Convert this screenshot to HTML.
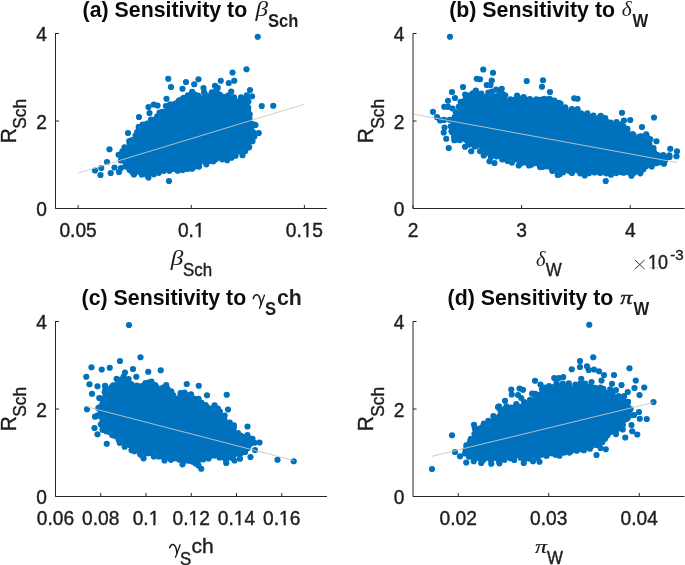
<!DOCTYPE html>
<html><head><meta charset="utf-8"><title>Sensitivity scatter plots</title>
<style>html,body{margin:0;padding:0;background:#fff;font-family:"Liberation Sans",sans-serif}svg{display:block;will-change:transform}</style></head>
<body>
<svg width="685" height="565" viewBox="0 0 685 565">
<rect width="685" height="565" fill="#fff"/>
<!-- panel a -->
<path d="M120.43,155.22 130.14,169.25 136.09,171.63 143.79,172.95 162,169.78 193.82,166.12 201.37,162.41 226.19,157.43 245.71,147.13 252.18,134.2 251.56,125.91 248.62,118.47 246.05,108.11 246.99,99.31 246.33,98.81 241.52,102.45 238.92,102.6 217.5,91.97 211.39,95 200.58,97.71 198.6,97.5 191.01,94.65 187.2,98.34 180.82,100.98 173.15,107.27 167.57,108.57 163.47,115.73 162.15,117.12 153.06,119.89 143.65,126.95 138.17,130.26 134.77,138.16 129.58,145.97Z" fill="#0072BD"/>
<g fill="#0072BD"><circle cx="212.29" cy="93.92" r="3.1"/><circle cx="190.05" cy="95.41" r="3.1"/><circle cx="250.96" cy="123.77" r="3.1"/><circle cx="147.24" cy="123.51" r="3.1"/><circle cx="196.28" cy="163.16" r="3.1"/><circle cx="145.34" cy="170.18" r="3.1"/><circle cx="129.66" cy="144.09" r="3.1"/><circle cx="178.4" cy="165.28" r="3.1"/><circle cx="145.6" cy="126.58" r="3.1"/><circle cx="137.2" cy="132.09" r="3.1"/><circle cx="251.18" cy="128.4" r="3.1"/><circle cx="155.55" cy="119.44" r="3.1"/><circle cx="216.13" cy="159.12" r="3.1"/><circle cx="162.02" cy="166.81" r="3.1"/><circle cx="227.88" cy="95.79" r="3.1"/><circle cx="246.75" cy="97.63" r="3.1"/><circle cx="249.35" cy="134.42" r="3.1"/><circle cx="243.53" cy="101.28" r="3.1"/><circle cx="238.45" cy="101.65" r="3.1"/><circle cx="213.32" cy="161.29" r="3.1"/><circle cx="219.17" cy="155.73" r="3.1"/><circle cx="150.13" cy="169.72" r="3.1"/><circle cx="249.18" cy="138.09" r="3.1"/><circle cx="140.4" cy="130.02" r="3.1"/><circle cx="171.4" cy="165.76" r="3.1"/><circle cx="219.69" cy="94.62" r="3.1"/><circle cx="128.75" cy="166.44" r="3.1"/><circle cx="200.19" cy="100.07" r="3.1"/><circle cx="167.25" cy="113.2" r="3.1"/><circle cx="152.4" cy="172.66" r="3.1"/><circle cx="223.35" cy="96.79" r="3.1"/><circle cx="152.31" cy="120.77" r="3.1"/><circle cx="247.92" cy="144.16" r="3.1"/><circle cx="158.2" cy="171.83" r="3.1"/><circle cx="160.81" cy="116.5" r="3.1"/><circle cx="222.19" cy="159.35" r="3.1"/><circle cx="135.56" cy="172.15" r="3.1"/><circle cx="195.12" cy="166.41" r="3.1"/><circle cx="198.82" cy="96.27" r="3.1"/><circle cx="125.85" cy="148.75" r="3.1"/><circle cx="135.53" cy="135.54" r="3.1"/><circle cx="158.65" cy="167.87" r="3.1"/><circle cx="243.73" cy="146.41" r="3.1"/><circle cx="247.07" cy="105.01" r="3.1"/><circle cx="224.84" cy="156.83" r="3.1"/><circle cx="230.82" cy="156.46" r="3.1"/><circle cx="167.96" cy="108.57" r="3.1"/><circle cx="181.05" cy="168.7" r="3.1"/><circle cx="206.41" cy="95.32" r="3.1"/><circle cx="171.94" cy="110.41" r="3.1"/><circle cx="204.08" cy="97.95" r="3.1"/><circle cx="143.91" cy="129.8" r="3.1"/><circle cx="160.44" cy="120.67" r="3.1"/><circle cx="249.4" cy="118.41" r="3.1"/><circle cx="188.08" cy="100.99" r="3.1"/><circle cx="244.65" cy="111.51" r="3.1"/><circle cx="184.65" cy="100.51" r="3.1"/><circle cx="207.38" cy="158.48" r="3.1"/><circle cx="236.1" cy="150.16" r="3.1"/><circle cx="164.61" cy="116.88" r="3.1"/><circle cx="148.24" cy="173.51" r="3.1"/><circle cx="233.49" cy="99.17" r="3.1"/><circle cx="205.5" cy="161.58" r="3.1"/><circle cx="133.91" cy="167.55" r="3.1"/><circle cx="186.35" cy="166.3" r="3.1"/><circle cx="125.53" cy="160.57" r="3.1"/><circle cx="120.86" cy="155.07" r="3.1"/><circle cx="211.17" cy="157.36" r="3.1"/><circle cx="139.09" cy="171.36" r="3.1"/><circle cx="199.72" cy="162.8" r="3.1"/><circle cx="240.18" cy="147.01" r="3.1"/><circle cx="163.84" cy="170.82" r="3.1"/><circle cx="194.14" cy="98.91" r="3.1"/><circle cx="123.46" cy="157.4" r="3.1"/><circle cx="129.38" cy="163.01" r="3.1"/><circle cx="233.78" cy="154.68" r="3.1"/><circle cx="174.64" cy="105.79" r="3.1"/><circle cx="167.33" cy="167.86" r="3.1"/><circle cx="245.14" cy="107.92" r="3.1"/><circle cx="245.87" cy="140.37" r="3.1"/><circle cx="239.3" cy="151.35" r="3.1"/><circle cx="129.76" cy="149.96" r="3.1"/><circle cx="135.6" cy="140.61" r="3.1"/><circle cx="247.61" cy="115.26" r="3.1"/><circle cx="134.28" cy="144.35" r="3.1"/><circle cx="238.58" cy="105.29" r="3.1"/><circle cx="192.62" cy="163.23" r="3.1"/><circle cx="175.41" cy="169.06" r="3.1"/><circle cx="209.74" cy="98.16" r="3.1"/><circle cx="180.83" cy="104.33" r="3.1"/><circle cx="190.38" cy="166.98" r="3.1"/><circle cx="155.18" cy="168.34" r="3.1"/><circle cx="228.47" cy="99.4" r="3.1"/><circle cx="142.64" cy="173.1" r="3.1"/><circle cx="124.78" cy="154.17" r="3.1"/><circle cx="202.47" cy="159.32" r="3.1"/><circle cx="253.32" cy="132.38" r="3.1"/><circle cx="246.88" cy="121.36" r="3.1"/><circle cx="233.04" cy="102.8" r="3.1"/><circle cx="129.57" cy="170.04" r="3.1"/><circle cx="216.18" cy="95.59" r="3.1"/><circle cx="177.7" cy="102.4" r="3.1"/><circle cx="216.49" cy="91.77" r="3.1"/><circle cx="194.77" cy="94.62" r="3.1"/><circle cx="227.37" cy="154.05" r="3.1"/><circle cx="132.07" cy="140.13" r="3.1"/><circle cx="171.1" cy="169.25" r="3.1"/><circle cx="181.26" cy="99.58" r="3.1"/><circle cx="248.15" cy="111.02" r="3.1"/><circle cx="182.4" cy="165.24" r="3.1"/><circle cx="252.45" cy="136.09" r="3.1"/><circle cx="163.84" cy="112.4" r="3.1"/><circle cx="122.34" cy="151.47" r="3.1"/><circle cx="231.14" cy="151.78" r="3.1"/><circle cx="125.57" cy="164.74" r="3.1"/><circle cx="139.15" cy="135.71" r="3.1"/><circle cx="243.42" cy="104.68" r="3.1"/><circle cx="186.96" cy="97.46" r="3.1"/><circle cx="174.84" cy="165.38" r="3.1"/><circle cx="150.03" cy="125.65" r="3.1"/><circle cx="209.94" cy="160.9" r="3.1"/><circle cx="247.2" cy="101.42" r="3.1"/><circle cx="175.53" cy="109.23" r="3.1"/><circle cx="132.17" cy="147.23" r="3.1"/><circle cx="242.74" cy="149.95" r="3.1"/><circle cx="245.64" cy="118.16" r="3.1"/><circle cx="141.76" cy="126.64" r="3.1"/><circle cx="188.83" cy="163.62" r="3.1"/><circle cx="178.26" cy="107.1" r="3.1"/><circle cx="153.87" cy="174.27" r="3.1"/><circle cx="211.81" cy="92.3" r="3.1"/><circle cx="150.96" cy="119.72" r="3.1"/><circle cx="124.54" cy="147.29" r="3.1"/><circle cx="129.25" cy="141.14" r="3.1"/><circle cx="147.08" cy="175.19" r="3.1"/><circle cx="246.86" cy="95.36" r="3.1"/><circle cx="234.01" cy="97.27" r="3.1"/><circle cx="177.66" cy="170.72" r="3.1"/><circle cx="254.33" cy="136.52" r="3.1"/><circle cx="250.93" cy="140.74" r="3.1"/><circle cx="158.86" cy="172.86" r="3.1"/><circle cx="157.29" cy="116.26" r="3.1"/><circle cx="187.34" cy="168.96" r="3.1"/><circle cx="162.42" cy="111.97" r="3.1"/><circle cx="249.21" cy="146.86" r="3.1"/><circle cx="248.24" cy="107.79" r="3.1"/><circle cx="228.82" cy="95.37" r="3.1"/><circle cx="126.36" cy="166.63" r="3.1"/><circle cx="192.17" cy="91.94" r="3.1"/><circle cx="169.32" cy="170.83" r="3.1"/><circle cx="240.41" cy="100.42" r="3.1"/><circle cx="174.8" cy="103.84" r="3.1"/><circle cx="216.03" cy="90.48" r="3.1"/><circle cx="206.35" cy="164.28" r="3.1"/><circle cx="132.77" cy="172.69" r="3.1"/><circle cx="183.72" cy="97.86" r="3.1"/><circle cx="197.82" cy="95.66" r="3.1"/><circle cx="182.65" cy="170.08" r="3.1"/><circle cx="248.39" cy="101.57" r="3.1"/><circle cx="253.44" cy="124.31" r="3.1"/><circle cx="120.91" cy="160.42" r="3.1"/><circle cx="178.93" cy="100.5" r="3.1"/><circle cx="138.72" cy="126.89" r="3.1"/><circle cx="249.64" cy="114.28" r="3.1"/><circle cx="187.93" cy="95.35" r="3.1"/><circle cx="199.05" cy="166.57" r="3.1"/><circle cx="165.91" cy="106.03" r="3.1"/><circle cx="141.69" cy="174.61" r="3.1"/><circle cx="118.59" cy="154.76" r="3.1"/><circle cx="142.67" cy="124.58" r="3.1"/><circle cx="192.14" cy="168.76" r="3.1"/><circle cx="231.42" cy="157.65" r="3.1"/><circle cx="227.12" cy="160.24" r="3.1"/><circle cx="245.14" cy="150.96" r="3.1"/><circle cx="235.52" cy="155.77" r="3.1"/><circle cx="133.91" cy="174.48" r="3.1"/><circle cx="231.21" cy="91.68" r="3.1"/><circle cx="204.08" cy="92.37" r="3.1"/><circle cx="242.53" cy="155.19" r="3.1"/><circle cx="217.76" cy="87.75" r="3.1"/><circle cx="159.59" cy="112.69" r="3.1"/><circle cx="170.13" cy="104.3" r="3.1"/><circle cx="148.44" cy="177.59" r="3.1"/><circle cx="241.07" cy="97.38" r="3.1"/><circle cx="95" cy="170.5" r="3.1"/><circle cx="100.5" cy="175" r="3.1"/><circle cx="101.25" cy="168" r="3.1"/><circle cx="109.5" cy="149.25" r="3.1"/><circle cx="107" cy="162" r="3.1"/><circle cx="110.75" cy="173" r="3.1"/><circle cx="114.5" cy="167.5" r="3.1"/><circle cx="121" cy="168" r="3.1"/><circle cx="119" cy="172" r="3.1"/><circle cx="139" cy="117" r="3.1"/><circle cx="128" cy="133" r="3.1"/><circle cx="148.5" cy="107" r="3.1"/><circle cx="153.75" cy="104.5" r="3.1"/><circle cx="157.5" cy="105.5" r="3.1"/><circle cx="149.5" cy="113" r="3.1"/><circle cx="168.25" cy="78.75" r="3.1"/><circle cx="171" cy="87" r="3.1"/><circle cx="166.5" cy="98.75" r="3.1"/><circle cx="182.5" cy="88.75" r="3.1"/><circle cx="186" cy="82" r="3.1"/><circle cx="194.25" cy="84.25" r="3.1"/><circle cx="198.5" cy="79.25" r="3.1"/><circle cx="203.5" cy="88" r="3.1"/><circle cx="215" cy="85.75" r="3.1"/><circle cx="220.75" cy="80.75" r="3.1"/><circle cx="228.75" cy="83" r="3.1"/><circle cx="234.25" cy="80.75" r="3.1"/><circle cx="232.5" cy="72.5" r="3.1"/><circle cx="246.5" cy="69.25" r="3.1"/><circle cx="169" cy="181" r="3.1"/><circle cx="250" cy="90" r="3.1"/><circle cx="257.75" cy="36.75" r="3.1"/><circle cx="252" cy="96.25" r="3.1"/><circle cx="261.75" cy="106" r="3.1"/><circle cx="273.25" cy="105.75" r="3.1"/><circle cx="255.5" cy="125" r="3.1"/><circle cx="258.75" cy="133" r="3.1"/><circle cx="252.5" cy="141.25" r="3.1"/><circle cx="248.75" cy="147.5" r="3.1"/></g>
<line x1="78.4" y1="173" x2="304.5" y2="104.2" stroke="#c6c6c6" stroke-width="0.9"/>
<path d="M55.5,33 V208.5 H327" fill="none" stroke="#262626" stroke-width="1"/>
<path d="M55.5,208.5 h3.5" stroke="#262626" stroke-width="1"/>
<path d="M55.5,121 h3.5" stroke="#262626" stroke-width="1"/>
<path d="M55.5,33.5 h3.5" stroke="#262626" stroke-width="1"/>
<g transform="translate(46.8,216.3) scale(0.954,1)"><text x="-11.18" y="0" font-family="'Liberation Sans', sans-serif" font-size="20.1" font-kerning="none" fill="#1e1e1e" stroke="#1e1e1e" stroke-width="0.4">0</text></g>
<g transform="translate(46.8,128.8) scale(0.954,1)"><text x="-11.18" y="0" font-family="'Liberation Sans', sans-serif" font-size="20.1" font-kerning="none" fill="#1e1e1e" stroke="#1e1e1e" stroke-width="0.4">2</text></g>
<g transform="translate(46.8,41.3) scale(0.954,1)"><text x="-11.18" y="0" font-family="'Liberation Sans', sans-serif" font-size="20.1" font-kerning="none" fill="#1e1e1e" stroke="#1e1e1e" stroke-width="0.4">4</text></g>
<path d="M78.12,208.5 v-3.5" stroke="#262626" stroke-width="1"/>
<g transform="translate(78.12,236.9) scale(0.954,1)"><text x="-19.56" y="0" font-family="'Liberation Sans', sans-serif" font-size="20.1" font-kerning="none" fill="#1e1e1e" stroke="#1e1e1e" stroke-width="0.4">0.05</text></g>
<path d="M191.25,208.5 v-3.5" stroke="#262626" stroke-width="1"/>
<g transform="translate(191.25,236.9) scale(0.954,1)"><text x="-13.97" y="0" font-family="'Liberation Sans', sans-serif" font-size="20.1" font-kerning="none" fill="#1e1e1e" stroke="#1e1e1e" stroke-width="0.4">0.1</text><rect x="3.82" y="-2.1" width="3.77" height="3.2" fill="#fff"/><rect x="9.87" y="-2.1" width="3.62" height="3.2" fill="#fff"/></g>
<path d="M304.38,208.5 v-3.5" stroke="#262626" stroke-width="1"/>
<g transform="translate(304.38,236.9) scale(0.954,1)"><text x="-19.56" y="0" font-family="'Liberation Sans', sans-serif" font-size="20.1" font-kerning="none" fill="#1e1e1e" stroke="#1e1e1e" stroke-width="0.4">0.15</text><rect x="-1.77" y="-2.1" width="3.77" height="3.2" fill="#fff"/><rect x="4.28" y="-2.1" width="3.62" height="3.2" fill="#fff"/></g>
<g transform="translate(15.85,121) rotate(-90)">
<text transform="translate(-22.2,0) scale(0.975,1.000)" font-family="'Liberation Sans', sans-serif" font-size="21.5" font-weight="normal" font-style="normal" text-anchor="start" fill="#1e1e1e" stroke="#1e1e1e" stroke-width="0.4">R</text>
<text transform="translate(-7.7,10.5) scale(0.970,1.000)" font-family="'Liberation Sans', sans-serif" font-size="17.8" font-weight="normal" font-style="normal" text-anchor="start" fill="#1e1e1e" stroke="#1e1e1e" stroke-width="0.4">Sch</text>
</g>
<!-- panel b -->
<path d="M455.71,122.49 453.06,127.83 453.44,133.88 455.56,137.83 461.4,138.75 466.53,141.3 480.24,146.29 487.17,151.61 494.03,155.05 501.12,157.41 510.74,159.81 520.76,161.07 539.97,164.87 550.27,167.46 559.59,171.4 573.92,169.75 584.27,171.49 596.9,171.02 608.95,172.23 619,171 630.77,171 640.54,167.37 649.64,166.2 653.96,161.91 655.34,161.17 661.89,161.02 665.77,161.77 666.46,160.62 664.58,158.73 657.92,157.6 650.9,154.8 649.68,153.81 648.77,151.65 648.75,142.9 648.07,139.52 638.04,137.63 629.58,134.76 622.43,126.82 616.74,127.74 615.1,127.5 606.79,123.33 599.13,116.8 594,117.75 580.33,116.32 572.55,110.25 562.84,110.08 561.17,109.08 554.53,102.43 543.8,100.29 531.45,101.5 521.26,99.12 511,101.49 509.08,100.86 502.83,95.89 499.44,94.19 493.07,95.19 488.12,92.54 484.75,95.81 482.23,96.49 480.78,96.11 476.07,93.31 472.7,94.98 465.14,97.16 460.86,104.33 459.83,112.16Z" fill="#0072BD"/>
<g fill="#0072BD"><circle cx="510.99" cy="157.92" r="3.1"/><circle cx="608.95" cy="170.94" r="3.1"/><circle cx="627.1" cy="132.2" r="3.1"/><circle cx="459.62" cy="113.69" r="3.1"/><circle cx="554.79" cy="170.22" r="3.1"/><circle cx="646.02" cy="166.22" r="3.1"/><circle cx="603.38" cy="123.43" r="3.1"/><circle cx="482.35" cy="98.28" r="3.1"/><circle cx="596.19" cy="119.05" r="3.1"/><circle cx="518.17" cy="102.04" r="3.1"/><circle cx="535.91" cy="163.12" r="3.1"/><circle cx="478.89" cy="143.88" r="3.1"/><circle cx="456.96" cy="116.33" r="3.1"/><circle cx="487" cy="150.09" r="3.1"/><circle cx="465.15" cy="99.73" r="3.1"/><circle cx="469.88" cy="95.45" r="3.1"/><circle cx="585.02" cy="170.79" r="3.1"/><circle cx="503.99" cy="98" r="3.1"/><circle cx="556.68" cy="106.91" r="3.1"/><circle cx="505.83" cy="157.87" r="3.1"/><circle cx="581.86" cy="168.08" r="3.1"/><circle cx="637.98" cy="166.15" r="3.1"/><circle cx="648.87" cy="154.19" r="3.1"/><circle cx="456.3" cy="131.71" r="3.1"/><circle cx="478.35" cy="94.3" r="3.1"/><circle cx="615.28" cy="126.71" r="3.1"/><circle cx="488.33" cy="92.49" r="3.1"/><circle cx="546.34" cy="166.3" r="3.1"/><circle cx="664.95" cy="160.84" r="3.1"/><circle cx="548.59" cy="103.56" r="3.1"/><circle cx="649.52" cy="144.64" r="3.1"/><circle cx="491.25" cy="95.95" r="3.1"/><circle cx="633.57" cy="135.18" r="3.1"/><circle cx="555.16" cy="102.13" r="3.1"/><circle cx="604.42" cy="169.61" r="3.1"/><circle cx="636.43" cy="138.7" r="3.1"/><circle cx="624.99" cy="171.76" r="3.1"/><circle cx="519.73" cy="160.95" r="3.1"/><circle cx="482.21" cy="148.07" r="3.1"/><circle cx="501.13" cy="156.33" r="3.1"/><circle cx="577.28" cy="170.25" r="3.1"/><circle cx="645.71" cy="150.1" r="3.1"/><circle cx="507.24" cy="101.27" r="3.1"/><circle cx="607.3" cy="125.1" r="3.1"/><circle cx="645.36" cy="141.57" r="3.1"/><circle cx="585.86" cy="117.17" r="3.1"/><circle cx="653.07" cy="162.98" r="3.1"/><circle cx="551.1" cy="167.65" r="3.1"/><circle cx="565.64" cy="109.29" r="3.1"/><circle cx="561.71" cy="111.63" r="3.1"/><circle cx="525.94" cy="160" r="3.1"/><circle cx="536.85" cy="102.35" r="3.1"/><circle cx="660.57" cy="162.19" r="3.1"/><circle cx="571.38" cy="167.37" r="3.1"/><circle cx="532.98" cy="101.52" r="3.1"/><circle cx="573.68" cy="111.96" r="3.1"/><circle cx="539.39" cy="164.35" r="3.1"/><circle cx="456.96" cy="120.06" r="3.1"/><circle cx="530.6" cy="161.11" r="3.1"/><circle cx="472.71" cy="144.04" r="3.1"/><circle cx="629.92" cy="137.14" r="3.1"/><circle cx="458.84" cy="139.46" r="3.1"/><circle cx="560.34" cy="169.57" r="3.1"/><circle cx="524.02" cy="102.65" r="3.1"/><circle cx="491.07" cy="153.09" r="3.1"/><circle cx="642.75" cy="138.38" r="3.1"/><circle cx="454.08" cy="137.11" r="3.1"/><circle cx="499.13" cy="94.86" r="3.1"/><circle cx="512.15" cy="104.1" r="3.1"/><circle cx="465.9" cy="139.7" r="3.1"/><circle cx="542.92" cy="99.25" r="3.1"/><circle cx="600.6" cy="168.32" r="3.1"/><circle cx="590" cy="117.3" r="3.1"/><circle cx="628.21" cy="169.5" r="3.1"/><circle cx="611.33" cy="128.37" r="3.1"/><circle cx="655.45" cy="156.69" r="3.1"/><circle cx="466.45" cy="95.54" r="3.1"/><circle cx="457.19" cy="124.98" r="3.1"/><circle cx="570.09" cy="112.26" r="3.1"/><circle cx="453.65" cy="127.1" r="3.1"/><circle cx="617.64" cy="171.77" r="3.1"/><circle cx="565.14" cy="169.15" r="3.1"/><circle cx="546.73" cy="100.71" r="3.1"/><circle cx="579.72" cy="117.95" r="3.1"/><circle cx="623.72" cy="126.94" r="3.1"/><circle cx="523.16" cy="162.41" r="3.1"/><circle cx="589.03" cy="170.77" r="3.1"/><circle cx="514.83" cy="159.45" r="3.1"/><circle cx="462.11" cy="103.66" r="3.1"/><circle cx="495.19" cy="153.28" r="3.1"/><circle cx="626.33" cy="136.06" r="3.1"/><circle cx="623.56" cy="168.18" r="3.1"/><circle cx="599.68" cy="117.41" r="3.1"/><circle cx="527.6" cy="103" r="3.1"/><circle cx="618.75" cy="126.72" r="3.1"/><circle cx="575.99" cy="116.85" r="3.1"/><circle cx="615.85" cy="168.67" r="3.1"/><circle cx="648.97" cy="139.02" r="3.1"/><circle cx="601.08" cy="172.5" r="3.1"/><circle cx="612.91" cy="172.38" r="3.1"/><circle cx="521.27" cy="100.06" r="3.1"/><circle cx="596.55" cy="169.22" r="3.1"/><circle cx="592.55" cy="169.57" r="3.1"/><circle cx="616.2" cy="130.61" r="3.1"/><circle cx="634" cy="168.71" r="3.1"/><circle cx="461.95" cy="137.94" r="3.1"/><circle cx="581.34" cy="171.98" r="3.1"/><circle cx="653.12" cy="159.31" r="3.1"/><circle cx="460.63" cy="108.03" r="3.1"/><circle cx="569.16" cy="171.1" r="3.1"/><circle cx="543.97" cy="163.51" r="3.1"/><circle cx="475.93" cy="91.82" r="3.1"/><circle cx="621.46" cy="129.79" r="3.1"/><circle cx="496.55" cy="156.49" r="3.1"/><circle cx="452.28" cy="132.23" r="3.1"/><circle cx="663.35" cy="157.82" r="3.1"/><circle cx="566.5" cy="113.28" r="3.1"/><circle cx="525.39" cy="99.23" r="3.1"/><circle cx="571.92" cy="109.05" r="3.1"/><circle cx="471.4" cy="140.48" r="3.1"/><circle cx="612" cy="124.69" r="3.1"/><circle cx="659.99" cy="157.03" r="3.1"/><circle cx="468.93" cy="99.23" r="3.1"/><circle cx="649.54" cy="164.55" r="3.1"/><circle cx="486.19" cy="96.85" r="3.1"/><circle cx="552.2" cy="103.97" r="3.1"/><circle cx="656.37" cy="161.29" r="3.1"/><circle cx="475.27" cy="96.36" r="3.1"/><circle cx="649.09" cy="148.38" r="3.1"/><circle cx="560.32" cy="107.08" r="3.1"/><circle cx="457.42" cy="135.26" r="3.1"/><circle cx="619.47" cy="168.27" r="3.1"/><circle cx="495.45" cy="96.24" r="3.1"/><circle cx="542.99" cy="103.25" r="3.1"/><circle cx="468.31" cy="143.04" r="3.1"/><circle cx="637.64" cy="169.57" r="3.1"/><circle cx="606.53" cy="121.6" r="3.1"/><circle cx="652.55" cy="154.29" r="3.1"/><circle cx="583.31" cy="119.68" r="3.1"/><circle cx="460.49" cy="118.48" r="3.1"/><circle cx="592.72" cy="119.49" r="3.1"/><circle cx="603.85" cy="119.09" r="3.1"/><circle cx="527.69" cy="163.12" r="3.1"/><circle cx="511.52" cy="100.34" r="3.1"/><circle cx="631.52" cy="171.34" r="3.1"/><circle cx="639.63" cy="140.59" r="3.1"/><circle cx="641.67" cy="165.67" r="3.1"/><circle cx="573.8" cy="169.87" r="3.1"/><circle cx="498.91" cy="153.74" r="3.1"/><circle cx="462.84" cy="111.85" r="3.1"/><circle cx="621.35" cy="172.13" r="3.1"/><circle cx="555.41" cy="166.75" r="3.1"/><circle cx="500.38" cy="98.12" r="3.1"/><circle cx="578.61" cy="114.27" r="3.1"/><circle cx="606.17" cy="173.32" r="3.1"/><circle cx="478.91" cy="98.06" r="3.1"/><circle cx="485.38" cy="146.72" r="3.1"/><circle cx="594.56" cy="172.42" r="3.1"/><circle cx="645.96" cy="145.8" r="3.1"/><circle cx="515.75" cy="99.08" r="3.1"/><circle cx="529.12" cy="99.88" r="3.1"/><circle cx="454.18" cy="122.67" r="3.1"/><circle cx="582.79" cy="115.35" r="3.1"/><circle cx="632.88" cy="138.92" r="3.1"/><circle cx="551" cy="100.39" r="3.1"/><circle cx="518.08" cy="157.76" r="3.1"/><circle cx="599.17" cy="120.89" r="3.1"/><circle cx="531.62" cy="164.55" r="3.1"/><circle cx="650.26" cy="157.44" r="3.1"/><circle cx="587.8" cy="120.19" r="3.1"/><circle cx="472.72" cy="93.43" r="3.1"/><circle cx="563.15" cy="172.2" r="3.1"/><circle cx="549.4" cy="164.44" r="3.1"/><circle cx="475.45" cy="141.05" r="3.1"/><circle cx="502.93" cy="94.37" r="3.1"/><circle cx="508.69" cy="160.45" r="3.1"/><circle cx="542.65" cy="166.79" r="3.1"/><circle cx="611.83" cy="168.82" r="3.1"/><circle cx="558" cy="110.1" r="3.1"/><circle cx="539.41" cy="99.76" r="3.1"/><circle cx="476.03" cy="145.91" r="3.1"/><circle cx="639.69" cy="136.61" r="3.1"/><circle cx="576.23" cy="166.98" r="3.1"/><circle cx="585.89" cy="115.48" r="3.1"/><circle cx="629.22" cy="172.58" r="3.1"/><circle cx="468.4" cy="144.75" r="3.1"/><circle cx="475.81" cy="90.68" r="3.1"/><circle cx="511.92" cy="162.61" r="3.1"/><circle cx="614.87" cy="125.62" r="3.1"/><circle cx="559.75" cy="174.22" r="3.1"/><circle cx="565.22" cy="107.38" r="3.1"/><circle cx="646.68" cy="136.32" r="3.1"/><circle cx="544.64" cy="98.9" r="3.1"/><circle cx="465.15" cy="94.54" r="3.1"/><circle cx="528.94" cy="165.52" r="3.1"/><circle cx="599.91" cy="172.82" r="3.1"/><circle cx="650.37" cy="139.35" r="3.1"/><circle cx="510.52" cy="99.45" r="3.1"/><circle cx="651.05" cy="152.82" r="3.1"/><circle cx="454.34" cy="140.19" r="3.1"/><circle cx="580.17" cy="173.29" r="3.1"/><circle cx="621.66" cy="124.15" r="3.1"/><circle cx="650.52" cy="148.33" r="3.1"/><circle cx="505.19" cy="95.28" r="3.1"/><circle cx="490.94" cy="156.93" r="3.1"/><circle cx="520.52" cy="163.42" r="3.1"/><circle cx="536.18" cy="99.42" r="3.1"/><circle cx="581.1" cy="113.45" r="3.1"/><circle cx="593.47" cy="115.67" r="3.1"/><circle cx="459.97" cy="140.09" r="3.1"/><circle cx="641.49" cy="136.34" r="3.1"/><circle cx="552.38" cy="170.94" r="3.1"/><circle cx="482.24" cy="149.64" r="3.1"/><circle cx="454.64" cy="116.98" r="3.1"/><circle cx="627.43" cy="128.96" r="3.1"/><circle cx="623.87" cy="172.68" r="3.1"/><circle cx="554.24" cy="100.62" r="3.1"/><circle cx="588.93" cy="173.18" r="3.1"/><circle cx="656.38" cy="163.24" r="3.1"/><circle cx="616.31" cy="173.06" r="3.1"/><circle cx="502.23" cy="159.48" r="3.1"/><circle cx="460.65" cy="101.92" r="3.1"/><circle cx="665.77" cy="157.38" r="3.1"/><circle cx="651.77" cy="166.52" r="3.1"/><circle cx="453.28" cy="121.61" r="3.1"/><circle cx="481.35" cy="93.71" r="3.1"/><circle cx="458.74" cy="106.79" r="3.1"/><circle cx="451.47" cy="131.34" r="3.1"/><circle cx="492.02" cy="91.57" r="3.1"/><circle cx="529.96" cy="99.06" r="3.1"/><circle cx="600.77" cy="115.89" r="3.1"/><circle cx="571.99" cy="173.01" r="3.1"/><circle cx="663.87" cy="163.04" r="3.1"/><circle cx="518.01" cy="97.52" r="3.1"/><circle cx="450.8" cy="126.32" r="3.1"/><circle cx="540.04" cy="167.08" r="3.1"/><circle cx="643.32" cy="169.33" r="3.1"/><circle cx="610.64" cy="122.61" r="3.1"/><circle cx="558.89" cy="102.8" r="3.1"/><circle cx="500.99" cy="91.75" r="3.1"/><circle cx="549.53" cy="98.81" r="3.1"/><circle cx="632.52" cy="134.16" r="3.1"/><circle cx="485.74" cy="153.35" r="3.1"/><circle cx="523.67" cy="97.08" r="3.1"/><circle cx="507.32" cy="160.81" r="3.1"/><circle cx="605.21" cy="118.22" r="3.1"/><circle cx="634.67" cy="172.6" r="3.1"/><circle cx="474.66" cy="146.41" r="3.1"/><circle cx="610.99" cy="174.68" r="3.1"/><circle cx="669.37" cy="155.43" r="3.1"/><circle cx="496.14" cy="89.55" r="3.1"/><circle cx="654.15" cy="152.39" r="3.1"/><circle cx="518.67" cy="165.48" r="3.1"/><circle cx="640.36" cy="173.31" r="3.1"/><circle cx="646.25" cy="134.4" r="3.1"/><circle cx="577.58" cy="109.02" r="3.1"/><circle cx="517.07" cy="95.48" r="3.1"/><circle cx="480.07" cy="151.26" r="3.1"/><circle cx="616.56" cy="121.98" r="3.1"/><circle cx="455.86" cy="112.25" r="3.1"/><circle cx="560.63" cy="103.85" r="3.1"/><circle cx="587.31" cy="113.37" r="3.1"/><circle cx="450" cy="36.75" r="3.1"/><circle cx="440.1" cy="120.4" r="3.1"/><circle cx="444" cy="119.9" r="3.1"/><circle cx="449.7" cy="119.75" r="3.1"/><circle cx="448" cy="106.8" r="3.1"/><circle cx="452.5" cy="108.5" r="3.1"/><circle cx="483.25" cy="69.5" r="3.1"/><circle cx="493" cy="72.75" r="3.1"/><circle cx="476.75" cy="78.75" r="3.1"/><circle cx="480" cy="79.25" r="3.1"/><circle cx="491.75" cy="80.5" r="3.1"/><circle cx="486.75" cy="85" r="3.1"/><circle cx="490.5" cy="85" r="3.1"/><circle cx="463" cy="87" r="3.1"/><circle cx="452" cy="92" r="3.1"/><circle cx="455" cy="98" r="3.1"/><circle cx="448" cy="100.75" r="3.1"/><circle cx="444.25" cy="106.75" r="3.1"/><circle cx="433" cy="111.85" r="3.1"/><circle cx="437" cy="117.2" r="3.1"/><circle cx="526.75" cy="81" r="3.1"/><circle cx="543" cy="80.25" r="3.1"/><circle cx="542" cy="86.75" r="3.1"/><circle cx="550" cy="92" r="3.1"/><circle cx="501.75" cy="88.75" r="3.1"/><circle cx="574.25" cy="98.25" r="3.1"/><circle cx="577.5" cy="98.75" r="3.1"/><circle cx="444.5" cy="127.5" r="3.1"/><circle cx="443.75" cy="132.5" r="3.1"/><circle cx="446.25" cy="138.75" r="3.1"/><circle cx="448.75" cy="148" r="3.1"/><circle cx="455" cy="140" r="3.1"/><circle cx="465" cy="146.75" r="3.1"/><circle cx="471.25" cy="151.25" r="3.1"/><circle cx="483.75" cy="155.5" r="3.1"/><circle cx="489.5" cy="161.25" r="3.1"/><circle cx="494.5" cy="163" r="3.1"/><circle cx="622" cy="112.75" r="3.1"/><circle cx="654" cy="117.5" r="3.1"/><circle cx="630.25" cy="120" r="3.1"/><circle cx="624" cy="120.5" r="3.1"/><circle cx="642" cy="127" r="3.1"/><circle cx="656.5" cy="141.25" r="3.1"/><circle cx="653.5" cy="148" r="3.1"/><circle cx="670.25" cy="148.75" r="3.1"/><circle cx="677" cy="151.25" r="3.1"/><circle cx="676.5" cy="156.25" r="3.1"/><circle cx="669.5" cy="157" r="3.1"/><circle cx="657.75" cy="155" r="3.1"/><circle cx="663.25" cy="155" r="3.1"/><circle cx="664" cy="163.75" r="3.1"/><circle cx="605.75" cy="181" r="3.1"/><circle cx="631.5" cy="175.75" r="3.1"/><circle cx="584.75" cy="175.5" r="3.1"/><circle cx="557.75" cy="175" r="3.1"/></g>
<line x1="412.7" y1="114" x2="677" y2="162.5" stroke="#c6c6c6" stroke-width="0.9"/>
<path d="M413,33 V208.5 H684.5" fill="none" stroke="#262626" stroke-width="1"/>
<path d="M413,208.5 h3.5" stroke="#262626" stroke-width="1"/>
<path d="M413,121 h3.5" stroke="#262626" stroke-width="1"/>
<path d="M413,33.5 h3.5" stroke="#262626" stroke-width="1"/>
<g transform="translate(404.3,216.3) scale(0.954,1)"><text x="-11.18" y="0" font-family="'Liberation Sans', sans-serif" font-size="20.1" font-kerning="none" fill="#1e1e1e" stroke="#1e1e1e" stroke-width="0.4">0</text></g>
<g transform="translate(404.3,128.8) scale(0.954,1)"><text x="-11.18" y="0" font-family="'Liberation Sans', sans-serif" font-size="20.1" font-kerning="none" fill="#1e1e1e" stroke="#1e1e1e" stroke-width="0.4">2</text></g>
<g transform="translate(404.3,41.3) scale(0.954,1)"><text x="-11.18" y="0" font-family="'Liberation Sans', sans-serif" font-size="20.1" font-kerning="none" fill="#1e1e1e" stroke="#1e1e1e" stroke-width="0.4">4</text></g>
<path d="M413,208.5 v-3.5" stroke="#262626" stroke-width="1"/>
<g transform="translate(413,236.9) scale(0.954,1)"><text x="-5.59" y="0" font-family="'Liberation Sans', sans-serif" font-size="20.1" font-kerning="none" fill="#1e1e1e" stroke="#1e1e1e" stroke-width="0.4">2</text></g>
<path d="M521.6,208.5 v-3.5" stroke="#262626" stroke-width="1"/>
<g transform="translate(521.6,236.9) scale(0.954,1)"><text x="-5.59" y="0" font-family="'Liberation Sans', sans-serif" font-size="20.1" font-kerning="none" fill="#1e1e1e" stroke="#1e1e1e" stroke-width="0.4">3</text></g>
<path d="M630.2,208.5 v-3.5" stroke="#262626" stroke-width="1"/>
<g transform="translate(630.2,236.9) scale(0.954,1)"><text x="-5.59" y="0" font-family="'Liberation Sans', sans-serif" font-size="20.1" font-kerning="none" fill="#1e1e1e" stroke="#1e1e1e" stroke-width="0.4">4</text></g>
<g transform="translate(373.35,121) rotate(-90)">
<text transform="translate(-22.2,0) scale(0.975,1.000)" font-family="'Liberation Sans', sans-serif" font-size="21.5" font-weight="normal" font-style="normal" text-anchor="start" fill="#1e1e1e" stroke="#1e1e1e" stroke-width="0.4">R</text>
<text transform="translate(-7.7,10.5) scale(0.970,1.000)" font-family="'Liberation Sans', sans-serif" font-size="17.8" font-weight="normal" font-style="normal" text-anchor="start" fill="#1e1e1e" stroke="#1e1e1e" stroke-width="0.4">Sch</text>
</g>
<!-- panel c -->
<path d="M103.88,400.97 100.1,408.75 99.12,414.6 102.26,422.96 107.7,429.49 115.04,434.41 122.51,441.85 132.12,447.86 139.87,453.38 150.37,452.52 163.24,456.05 175.4,457.27 188.14,459.8 196.63,460.86 203.65,456.73 214.44,454.04 216.49,454.29 225,457.69 242.7,450.61 247.36,445.74 251.77,443.02 251.36,440.96 247.35,437.75 241.72,437.67 239.67,436.58 234.39,428.8 222.02,415.66 218.17,410.5 212.96,410.92 204.66,407.42 197.55,401.18 192.13,397.71 184.69,395.8 176.34,396.33 168.23,391.13 161.53,388.89 153.19,387.31 148.42,383.61 143.46,386.38 133.09,387.7 130.67,386.3 126.34,379.85 124.05,379.39 118.43,385.85 109.6,388.56 106.11,392.04Z" fill="#0072BD"/>
<g fill="#0072BD"><circle cx="180.38" cy="395.92" r="3.1"/><circle cx="245.45" cy="444.89" r="3.1"/><circle cx="137.64" cy="449.64" r="3.1"/><circle cx="146.52" cy="387.76" r="3.1"/><circle cx="118.67" cy="435.01" r="3.1"/><circle cx="166.7" cy="392.77" r="3.1"/><circle cx="209.58" cy="456.65" r="3.1"/><circle cx="151.08" cy="385.68" r="3.1"/><circle cx="102.62" cy="420.2" r="3.1"/><circle cx="165.39" cy="389.42" r="3.1"/><circle cx="147.91" cy="453.26" r="3.1"/><circle cx="201.44" cy="456.85" r="3.1"/><circle cx="178.61" cy="455.59" r="3.1"/><circle cx="144.04" cy="385.19" r="3.1"/><circle cx="252.29" cy="442.19" r="3.1"/><circle cx="169.45" cy="454.04" r="3.1"/><circle cx="99.17" cy="415.81" r="3.1"/><circle cx="189.63" cy="399.57" r="3.1"/><circle cx="118.46" cy="439.18" r="3.1"/><circle cx="224.5" cy="420.02" r="3.1"/><circle cx="204.1" cy="409.55" r="3.1"/><circle cx="115.25" cy="388.71" r="3.1"/><circle cx="105.35" cy="397.4" r="3.1"/><circle cx="112.77" cy="432.92" r="3.1"/><circle cx="135.63" cy="390.61" r="3.1"/><circle cx="219.56" cy="415.05" r="3.1"/><circle cx="163.07" cy="456.83" r="3.1"/><circle cx="209.68" cy="452.87" r="3.1"/><circle cx="193.92" cy="398.6" r="3.1"/><circle cx="151.36" cy="452.82" r="3.1"/><circle cx="233.7" cy="428.13" r="3.1"/><circle cx="121.59" cy="441.27" r="3.1"/><circle cx="135.3" cy="386.67" r="3.1"/><circle cx="162.19" cy="392.37" r="3.1"/><circle cx="233.46" cy="455.18" r="3.1"/><circle cx="119.92" cy="386.65" r="3.1"/><circle cx="202.15" cy="406.68" r="3.1"/><circle cx="109.64" cy="392.72" r="3.1"/><circle cx="194" cy="458.64" r="3.1"/><circle cx="106.51" cy="429.97" r="3.1"/><circle cx="240.45" cy="436.16" r="3.1"/><circle cx="218.95" cy="454.92" r="3.1"/><circle cx="200.96" cy="402.69" r="3.1"/><circle cx="184.3" cy="396.1" r="3.1"/><circle cx="244.84" cy="437.15" r="3.1"/><circle cx="175.05" cy="458.16" r="3.1"/><circle cx="131.35" cy="390.24" r="3.1"/><circle cx="222.39" cy="457.09" r="3.1"/><circle cx="106.1" cy="401.93" r="3.1"/><circle cx="242.68" cy="439.79" r="3.1"/><circle cx="185.2" cy="458.52" r="3.1"/><circle cx="173.24" cy="395.46" r="3.1"/><circle cx="229.76" cy="422.56" r="3.1"/><circle cx="160" cy="389.1" r="3.1"/><circle cx="242.9" cy="452.02" r="3.1"/><circle cx="248.47" cy="437.99" r="3.1"/><circle cx="227.02" cy="425.66" r="3.1"/><circle cx="175.46" cy="454.21" r="3.1"/><circle cx="126.31" cy="380.72" r="3.1"/><circle cx="108.89" cy="389.25" r="3.1"/><circle cx="148.21" cy="382.57" r="3.1"/><circle cx="237.06" cy="453.72" r="3.1"/><circle cx="238.03" cy="433.05" r="3.1"/><circle cx="120.58" cy="381.47" r="3.1"/><circle cx="140.09" cy="454" r="3.1"/><circle cx="125.28" cy="442.13" r="3.1"/><circle cx="143.97" cy="454.07" r="3.1"/><circle cx="129.57" cy="445.1" r="3.1"/><circle cx="153.31" cy="390.22" r="3.1"/><circle cx="213.94" cy="411.73" r="3.1"/><circle cx="100.7" cy="410.9" r="3.1"/><circle cx="159.21" cy="454.52" r="3.1"/><circle cx="226.44" cy="456.79" r="3.1"/><circle cx="197.85" cy="404.48" r="3.1"/><circle cx="245.38" cy="449.39" r="3.1"/><circle cx="102.35" cy="404.16" r="3.1"/><circle cx="205.61" cy="454.84" r="3.1"/><circle cx="221.11" cy="418.42" r="3.1"/><circle cx="239.37" cy="449.39" r="3.1"/><circle cx="155.31" cy="452.88" r="3.1"/><circle cx="102.52" cy="423.93" r="3.1"/><circle cx="143.06" cy="388.76" r="3.1"/><circle cx="230.21" cy="456.67" r="3.1"/><circle cx="192.31" cy="461.6" r="3.1"/><circle cx="171.19" cy="392.26" r="3.1"/><circle cx="106.52" cy="426.44" r="3.1"/><circle cx="126.38" cy="384.67" r="3.1"/><circle cx="206.97" cy="407.34" r="3.1"/><circle cx="233.83" cy="451.26" r="3.1"/><circle cx="217.05" cy="409.56" r="3.1"/><circle cx="134.67" cy="447.33" r="3.1"/><circle cx="112.08" cy="429.38" r="3.1"/><circle cx="210.45" cy="408.57" r="3.1"/><circle cx="219.86" cy="411.49" r="3.1"/><circle cx="190.42" cy="457.88" r="3.1"/><circle cx="104.78" cy="392.22" r="3.1"/><circle cx="145.02" cy="450.52" r="3.1"/><circle cx="215.49" cy="453.68" r="3.1"/><circle cx="197.42" cy="399.94" r="3.1"/><circle cx="175.77" cy="398.93" r="3.1"/><circle cx="123.04" cy="383.84" r="3.1"/><circle cx="198.12" cy="460.43" r="3.1"/><circle cx="130.02" cy="384.1" r="3.1"/><circle cx="109.42" cy="432.08" r="3.1"/><circle cx="140.15" cy="386.34" r="3.1"/><circle cx="239.04" cy="439.51" r="3.1"/><circle cx="103.47" cy="408.23" r="3.1"/><circle cx="236.25" cy="436.6" r="3.1"/><circle cx="188.3" cy="395.39" r="3.1"/><circle cx="233.47" cy="432.45" r="3.1"/><circle cx="167.04" cy="457.04" r="3.1"/><circle cx="156.43" cy="387.13" r="3.1"/><circle cx="188.32" cy="460.73" r="3.1"/><circle cx="180.85" cy="458.46" r="3.1"/><circle cx="99.93" cy="407.09" r="3.1"/><circle cx="170.55" cy="457.69" r="3.1"/><circle cx="249.67" cy="444.61" r="3.1"/><circle cx="141.46" cy="450.78" r="3.1"/><circle cx="116.64" cy="385.2" r="3.1"/><circle cx="229.73" cy="428.01" r="3.1"/><circle cx="208.72" cy="411.93" r="3.1"/><circle cx="228.01" cy="453.2" r="3.1"/><circle cx="114.85" cy="435.82" r="3.1"/><circle cx="223.93" cy="416.38" r="3.1"/><circle cx="164.23" cy="453.21" r="3.1"/><circle cx="122.93" cy="378.8" r="3.1"/><circle cx="111.68" cy="387.12" r="3.1"/><circle cx="181.95" cy="398.96" r="3.1"/><circle cx="116.56" cy="432.35" r="3.1"/><circle cx="139.55" cy="389.91" r="3.1"/><circle cx="194.13" cy="402.02" r="3.1"/><circle cx="156.77" cy="390.71" r="3.1"/><circle cx="102.84" cy="399.75" r="3.1"/><circle cx="246.93" cy="441.27" r="3.1"/><circle cx="112.29" cy="390.53" r="3.1"/><circle cx="222.98" cy="453.59" r="3.1"/><circle cx="197.98" cy="456.8" r="3.1"/><circle cx="149.92" cy="449.72" r="3.1"/><circle cx="128.39" cy="387.79" r="3.1"/><circle cx="169.36" cy="395.41" r="3.1"/><circle cx="121.62" cy="436.72" r="3.1"/><circle cx="102.4" cy="414.6" r="3.1"/><circle cx="134.43" cy="451.16" r="3.1"/><circle cx="106.07" cy="423" r="3.1"/><circle cx="242.46" cy="447.19" r="3.1"/><circle cx="131.58" cy="450.18" r="3.1"/><circle cx="131.24" cy="384.06" r="3.1"/><circle cx="150.95" cy="383.27" r="3.1"/><circle cx="163.06" cy="387.56" r="3.1"/><circle cx="171.23" cy="391.38" r="3.1"/><circle cx="241.04" cy="435.82" r="3.1"/><circle cx="101.33" cy="398.56" r="3.1"/><circle cx="124.71" cy="446.63" r="3.1"/><circle cx="201.48" cy="402.83" r="3.1"/><circle cx="217.84" cy="408.59" r="3.1"/><circle cx="240.81" cy="453.3" r="3.1"/><circle cx="112.23" cy="435.1" r="3.1"/><circle cx="170.97" cy="459.8" r="3.1"/><circle cx="195.36" cy="463.33" r="3.1"/><circle cx="247.79" cy="448.05" r="3.1"/><circle cx="119.73" cy="442.86" r="3.1"/><circle cx="113.24" cy="385.24" r="3.1"/><circle cx="123.68" cy="376.68" r="3.1"/><circle cx="100.93" cy="424.46" r="3.1"/><circle cx="136.75" cy="385.71" r="3.1"/><circle cx="98.38" cy="408.11" r="3.1"/><circle cx="203.15" cy="459.42" r="3.1"/><circle cx="214.45" cy="455.6" r="3.1"/><circle cx="183.06" cy="461.92" r="3.1"/><circle cx="120.21" cy="380.1" r="3.1"/><circle cx="155.13" cy="385.04" r="3.1"/><circle cx="233.91" cy="425.4" r="3.1"/><circle cx="225.9" cy="460.03" r="3.1"/><circle cx="180.56" cy="393.12" r="3.1"/><circle cx="231.2" cy="457.59" r="3.1"/><circle cx="106.32" cy="431.17" r="3.1"/><circle cx="245.11" cy="451.92" r="3.1"/><circle cx="153.84" cy="456.5" r="3.1"/><circle cx="158.72" cy="456.49" r="3.1"/><circle cx="254.5" cy="442.77" r="3.1"/><circle cx="224.59" cy="415.61" r="3.1"/><circle cx="97.7" cy="415.42" r="3.1"/><circle cx="205.64" cy="405.17" r="3.1"/><circle cx="145.54" cy="382.98" r="3.1"/><circle cx="190.98" cy="394.28" r="3.1"/><circle cx="128.62" cy="379.07" r="3.1"/><circle cx="208.52" cy="458.5" r="3.1"/><circle cx="141.28" cy="455.09" r="3.1"/><circle cx="179.04" cy="459.62" r="3.1"/><circle cx="212.62" cy="408.52" r="3.1"/><circle cx="219.45" cy="457.51" r="3.1"/><circle cx="105.51" cy="388.71" r="3.1"/><circle cx="198.53" cy="398.95" r="3.1"/><circle cx="251.29" cy="438.79" r="3.1"/><circle cx="167.48" cy="388.78" r="3.1"/><circle cx="116.66" cy="378.92" r="3.1"/><circle cx="232.77" cy="458.03" r="3.1"/><circle cx="105.06" cy="385.87" r="3.1"/><circle cx="143.57" cy="458.36" r="3.1"/><circle cx="102.57" cy="429.82" r="3.1"/><circle cx="182.46" cy="464.28" r="3.1"/><circle cx="95.06" cy="416.65" r="3.1"/><circle cx="151.45" cy="381.68" r="3.1"/><circle cx="214.58" cy="405.26" r="3.1"/><circle cx="198.43" cy="465.42" r="3.1"/><circle cx="129" cy="325" r="3.1"/><circle cx="140.5" cy="357.25" r="3.1"/><circle cx="120" cy="361" r="3.1"/><circle cx="91.5" cy="367.25" r="3.1"/><circle cx="101.75" cy="369.5" r="3.1"/><circle cx="109.75" cy="367.75" r="3.1"/><circle cx="133" cy="369" r="3.1"/><circle cx="160.75" cy="370.25" r="3.1"/><circle cx="148.25" cy="371.75" r="3.1"/><circle cx="86.25" cy="376.75" r="3.1"/><circle cx="125" cy="372.5" r="3.1"/><circle cx="136.25" cy="376.75" r="3.1"/><circle cx="89.5" cy="384.25" r="3.1"/><circle cx="97.5" cy="386.25" r="3.1"/><circle cx="92" cy="393.75" r="3.1"/><circle cx="99.25" cy="398" r="3.1"/><circle cx="87" cy="409.25" r="3.1"/><circle cx="186.75" cy="384" r="3.1"/><circle cx="198.75" cy="385.75" r="3.1"/><circle cx="207" cy="395.25" r="3.1"/><circle cx="226.75" cy="394.75" r="3.1"/><circle cx="228" cy="409.5" r="3.1"/><circle cx="94.5" cy="428" r="3.1"/><circle cx="97.5" cy="434.25" r="3.1"/><circle cx="106.75" cy="443.75" r="3.1"/><circle cx="166.25" cy="385" r="3.1"/><circle cx="184.5" cy="392.5" r="3.1"/><circle cx="247.5" cy="426.5" r="3.1"/><circle cx="259.5" cy="442.5" r="3.1"/><circle cx="255" cy="450" r="3.1"/><circle cx="250.5" cy="457" r="3.1"/><circle cx="277.5" cy="459.75" r="3.1"/><circle cx="293.75" cy="461.25" r="3.1"/><circle cx="201.25" cy="468.75" r="3.1"/><circle cx="234.5" cy="460.5" r="3.1"/><circle cx="240" cy="458.75" r="3.1"/><circle cx="226.25" cy="463" r="3.1"/><circle cx="164.5" cy="460.5" r="3.1"/><circle cx="247.5" cy="435" r="3.1"/><circle cx="252.5" cy="438.75" r="3.1"/></g>
<line x1="87.5" y1="407" x2="293.75" y2="460.5" stroke="#c6c6c6" stroke-width="0.9"/>
<path d="M55.5,321 V496.5 H327" fill="none" stroke="#262626" stroke-width="1"/>
<path d="M55.5,496.5 h3.5" stroke="#262626" stroke-width="1"/>
<path d="M55.5,409 h3.5" stroke="#262626" stroke-width="1"/>
<path d="M55.5,321.5 h3.5" stroke="#262626" stroke-width="1"/>
<g transform="translate(46.8,504.3) scale(0.954,1)"><text x="-11.18" y="0" font-family="'Liberation Sans', sans-serif" font-size="20.1" font-kerning="none" fill="#1e1e1e" stroke="#1e1e1e" stroke-width="0.4">0</text></g>
<g transform="translate(46.8,416.8) scale(0.954,1)"><text x="-11.18" y="0" font-family="'Liberation Sans', sans-serif" font-size="20.1" font-kerning="none" fill="#1e1e1e" stroke="#1e1e1e" stroke-width="0.4">2</text></g>
<g transform="translate(46.8,329.3) scale(0.954,1)"><text x="-11.18" y="0" font-family="'Liberation Sans', sans-serif" font-size="20.1" font-kerning="none" fill="#1e1e1e" stroke="#1e1e1e" stroke-width="0.4">4</text></g>
<path d="M55.5,496.5 v-3.5" stroke="#262626" stroke-width="1"/>
<g transform="translate(55.5,524.9) scale(0.954,1)"><text x="-19.56" y="0" font-family="'Liberation Sans', sans-serif" font-size="20.1" font-kerning="none" fill="#1e1e1e" stroke="#1e1e1e" stroke-width="0.4">0.06</text></g>
<path d="M100.75,496.5 v-3.5" stroke="#262626" stroke-width="1"/>
<g transform="translate(100.75,524.9) scale(0.954,1)"><text x="-19.56" y="0" font-family="'Liberation Sans', sans-serif" font-size="20.1" font-kerning="none" fill="#1e1e1e" stroke="#1e1e1e" stroke-width="0.4">0.08</text></g>
<path d="M146,496.5 v-3.5" stroke="#262626" stroke-width="1"/>
<g transform="translate(146,524.9) scale(0.954,1)"><text x="-13.97" y="0" font-family="'Liberation Sans', sans-serif" font-size="20.1" font-kerning="none" fill="#1e1e1e" stroke="#1e1e1e" stroke-width="0.4">0.1</text><rect x="3.82" y="-2.1" width="3.77" height="3.2" fill="#fff"/><rect x="9.87" y="-2.1" width="3.62" height="3.2" fill="#fff"/></g>
<path d="M191.25,496.5 v-3.5" stroke="#262626" stroke-width="1"/>
<g transform="translate(191.25,524.9) scale(0.954,1)"><text x="-19.56" y="0" font-family="'Liberation Sans', sans-serif" font-size="20.1" font-kerning="none" fill="#1e1e1e" stroke="#1e1e1e" stroke-width="0.4">0.12</text><rect x="-1.77" y="-2.1" width="3.77" height="3.2" fill="#fff"/><rect x="4.28" y="-2.1" width="3.62" height="3.2" fill="#fff"/></g>
<path d="M236.5,496.5 v-3.5" stroke="#262626" stroke-width="1"/>
<g transform="translate(236.5,524.9) scale(0.954,1)"><text x="-19.56" y="0" font-family="'Liberation Sans', sans-serif" font-size="20.1" font-kerning="none" fill="#1e1e1e" stroke="#1e1e1e" stroke-width="0.4">0.14</text><rect x="-1.77" y="-2.1" width="3.77" height="3.2" fill="#fff"/><rect x="4.28" y="-2.1" width="3.62" height="3.2" fill="#fff"/></g>
<path d="M281.75,496.5 v-3.5" stroke="#262626" stroke-width="1"/>
<g transform="translate(281.75,524.9) scale(0.954,1)"><text x="-19.56" y="0" font-family="'Liberation Sans', sans-serif" font-size="20.1" font-kerning="none" fill="#1e1e1e" stroke="#1e1e1e" stroke-width="0.4">0.16</text><rect x="-1.77" y="-2.1" width="3.77" height="3.2" fill="#fff"/><rect x="4.28" y="-2.1" width="3.62" height="3.2" fill="#fff"/></g>
<g transform="translate(15.85,409) rotate(-90)">
<text transform="translate(-22.2,0) scale(0.975,1.000)" font-family="'Liberation Sans', sans-serif" font-size="21.5" font-weight="normal" font-style="normal" text-anchor="start" fill="#1e1e1e" stroke="#1e1e1e" stroke-width="0.4">R</text>
<text transform="translate(-7.7,10.5) scale(0.970,1.000)" font-family="'Liberation Sans', sans-serif" font-size="17.8" font-weight="normal" font-style="normal" text-anchor="start" fill="#1e1e1e" stroke="#1e1e1e" stroke-width="0.4">Sch</text>
</g>
<!-- panel d -->
<path d="M466.88,450.18 468.15,453.35 473.68,456.12 492.75,458.5 504.8,458.5 541.91,454.79 558.23,451.58 570.88,449.8 590.19,446.18 599.49,441.53 613.95,431.89 620.89,424.95 625.33,418.3 627.58,410.41 628.41,404.56 616.78,398.33 609.49,393.47 602.82,390.13 593.17,388.91 583.76,386.1 573.86,387.75 563.34,385.21 555.36,384.54 549.17,386.19 542.55,390.61 537.56,395.57 529.45,402.24 520.96,405.13 513.47,406.39 506.77,408.63 500.05,413.11 495.04,418.09 487.55,423.11 475.61,435.05 470.97,442.01Z" fill="#0072BD"/>
<g fill="#0072BD"><circle cx="626.31" cy="414.12" r="3.1"/><circle cx="565.34" cy="450.12" r="3.1"/><circle cx="497.25" cy="417.88" r="3.1"/><circle cx="600" cy="390" r="3.1"/><circle cx="619.91" cy="403.36" r="3.1"/><circle cx="511.86" cy="455" r="3.1"/><circle cx="615.99" cy="430.17" r="3.1"/><circle cx="507.61" cy="411.43" r="3.1"/><circle cx="523.52" cy="454.76" r="3.1"/><circle cx="475.54" cy="435.34" r="3.1"/><circle cx="619.1" cy="424.77" r="3.1"/><circle cx="514.11" cy="457.71" r="3.1"/><circle cx="538.24" cy="452.28" r="3.1"/><circle cx="557.23" cy="385.28" r="3.1"/><circle cx="535.12" cy="400.39" r="3.1"/><circle cx="613.16" cy="396.32" r="3.1"/><circle cx="502.59" cy="412.91" r="3.1"/><circle cx="592.12" cy="441.79" r="3.1"/><circle cx="625.33" cy="410.84" r="3.1"/><circle cx="569.46" cy="386.17" r="3.1"/><circle cx="535.47" cy="396.82" r="3.1"/><circle cx="490.56" cy="455.54" r="3.1"/><circle cx="501.56" cy="457.22" r="3.1"/><circle cx="548.38" cy="453.01" r="3.1"/><circle cx="623.11" cy="416.83" r="3.1"/><circle cx="531.06" cy="401.3" r="3.1"/><circle cx="584.79" cy="447" r="3.1"/><circle cx="506.46" cy="457.02" r="3.1"/><circle cx="610.73" cy="432" r="3.1"/><circle cx="487.04" cy="426.2" r="3.1"/><circle cx="511.36" cy="407.59" r="3.1"/><circle cx="605.3" cy="392.54" r="3.1"/><circle cx="481.85" cy="457.67" r="3.1"/><circle cx="475.91" cy="457.25" r="3.1"/><circle cx="621" cy="399.21" r="3.1"/><circle cx="607.43" cy="435.33" r="3.1"/><circle cx="580.43" cy="389.66" r="3.1"/><circle cx="482.98" cy="431.32" r="3.1"/><circle cx="624.44" cy="403.71" r="3.1"/><circle cx="520.72" cy="457.75" r="3.1"/><circle cx="627.56" cy="405.77" r="3.1"/><circle cx="603.05" cy="435.93" r="3.1"/><circle cx="590.16" cy="390.23" r="3.1"/><circle cx="549.01" cy="386.02" r="3.1"/><circle cx="585.91" cy="386.72" r="3.1"/><circle cx="535.41" cy="455.74" r="3.1"/><circle cx="578.17" cy="386.15" r="3.1"/><circle cx="538.21" cy="394.81" r="3.1"/><circle cx="467.99" cy="445.18" r="3.1"/><circle cx="474.85" cy="439.66" r="3.1"/><circle cx="546.73" cy="389.22" r="3.1"/><circle cx="555.76" cy="450.76" r="3.1"/><circle cx="500.15" cy="415.46" r="3.1"/><circle cx="490.27" cy="459.29" r="3.1"/><circle cx="573.96" cy="448.19" r="3.1"/><circle cx="542.37" cy="393.45" r="3.1"/><circle cx="577.97" cy="449.02" r="3.1"/><circle cx="595.32" cy="444.12" r="3.1"/><circle cx="559.38" cy="449.56" r="3.1"/><circle cx="562.28" cy="452.35" r="3.1"/><circle cx="568.75" cy="448.62" r="3.1"/><circle cx="608.83" cy="393.61" r="3.1"/><circle cx="530.82" cy="456.02" r="3.1"/><circle cx="507.7" cy="407.95" r="3.1"/><circle cx="553.59" cy="387.07" r="3.1"/><circle cx="495.74" cy="457.79" r="3.1"/><circle cx="468.72" cy="451.29" r="3.1"/><circle cx="527.61" cy="404.59" r="3.1"/><circle cx="474.35" cy="453.02" r="3.1"/><circle cx="622.13" cy="421.04" r="3.1"/><circle cx="601.41" cy="439.91" r="3.1"/><circle cx="591.05" cy="446.62" r="3.1"/><circle cx="596.14" cy="439.86" r="3.1"/><circle cx="522.92" cy="407.28" r="3.1"/><circle cx="564.16" cy="386.35" r="3.1"/><circle cx="486.62" cy="457.46" r="3.1"/><circle cx="572.67" cy="389.5" r="3.1"/><circle cx="580.01" cy="445.78" r="3.1"/><circle cx="493.74" cy="419.95" r="3.1"/><circle cx="470.02" cy="455.54" r="3.1"/><circle cx="519.5" cy="406.8" r="3.1"/><circle cx="540.96" cy="454.83" r="3.1"/><circle cx="594.11" cy="391.12" r="3.1"/><circle cx="470.93" cy="448.42" r="3.1"/><circle cx="552.15" cy="453.34" r="3.1"/><circle cx="470.17" cy="441.14" r="3.1"/><circle cx="587.21" cy="444.01" r="3.1"/><circle cx="510.45" cy="458.27" r="3.1"/><circle cx="615.8" cy="425.67" r="3.1"/><circle cx="576.15" cy="389.1" r="3.1"/><circle cx="479.94" cy="434.78" r="3.1"/><circle cx="617.48" cy="397.76" r="3.1"/><circle cx="472.12" cy="444.83" r="3.1"/><circle cx="527.11" cy="457.13" r="3.1"/><circle cx="479.21" cy="454.4" r="3.1"/><circle cx="488.34" cy="420.91" r="3.1"/><circle cx="560.7" cy="385.92" r="3.1"/><circle cx="615.49" cy="400.81" r="3.1"/><circle cx="517.39" cy="454.74" r="3.1"/><circle cx="581.58" cy="385.68" r="3.1"/><circle cx="477.89" cy="431.68" r="3.1"/><circle cx="465.54" cy="449.75" r="3.1"/><circle cx="504.24" cy="409.46" r="3.1"/><circle cx="516.07" cy="406.17" r="3.1"/><circle cx="599.05" cy="442.88" r="3.1"/><circle cx="539.15" cy="398.08" r="3.1"/><circle cx="562.49" cy="448.15" r="3.1"/><circle cx="567.56" cy="389.03" r="3.1"/><circle cx="480.75" cy="428.11" r="3.1"/><circle cx="625.38" cy="419.43" r="3.1"/><circle cx="543.31" cy="451.72" r="3.1"/><circle cx="491.03" cy="423.52" r="3.1"/><circle cx="484.61" cy="454.5" r="3.1"/><circle cx="545.68" cy="455.33" r="3.1"/><circle cx="542" cy="389.52" r="3.1"/><circle cx="628.81" cy="409.75" r="3.1"/><circle cx="550.74" cy="388.97" r="3.1"/><circle cx="527.35" cy="453.29" r="3.1"/><circle cx="603.24" cy="388.79" r="3.1"/><circle cx="551.36" cy="449.79" r="3.1"/><circle cx="605.04" cy="438.75" r="3.1"/><circle cx="524.17" cy="403.06" r="3.1"/><circle cx="618.95" cy="428.17" r="3.1"/><circle cx="597.47" cy="392.28" r="3.1"/><circle cx="558.6" cy="452.89" r="3.1"/><circle cx="483.36" cy="425.76" r="3.1"/><circle cx="589.99" cy="386.58" r="3.1"/><circle cx="504.5" cy="459.84" r="3.1"/><circle cx="622.6" cy="424.49" r="3.1"/><circle cx="571.2" cy="451.08" r="3.1"/><circle cx="595.05" cy="387.83" r="3.1"/><circle cx="581.96" cy="449.25" r="3.1"/><circle cx="531.35" cy="404.69" r="3.1"/><circle cx="609.7" cy="396.93" r="3.1"/><circle cx="498.69" cy="459.57" r="3.1"/><circle cx="601.57" cy="393.05" r="3.1"/><circle cx="533.51" cy="452.74" r="3.1"/><circle cx="466.37" cy="445.38" r="3.1"/><circle cx="493.41" cy="416.19" r="3.1"/><circle cx="562.87" cy="383.63" r="3.1"/><circle cx="483.88" cy="423.49" r="3.1"/><circle cx="500.36" cy="410.31" r="3.1"/><circle cx="477.76" cy="429.44" r="3.1"/><circle cx="630.59" cy="409.06" r="3.1"/><circle cx="470.9" cy="438.81" r="3.1"/><circle cx="537.63" cy="457.72" r="3.1"/><circle cx="628.08" cy="401.78" r="3.1"/><circle cx="622.79" cy="425.09" r="3.1"/><circle cx="468.9" cy="456.77" r="3.1"/><circle cx="575.43" cy="384.7" r="3.1"/><circle cx="498.97" cy="460.97" r="3.1"/><circle cx="618.59" cy="396.13" r="3.1"/><circle cx="546.65" cy="455.7" r="3.1"/><circle cx="516.31" cy="404.12" r="3.1"/><circle cx="530.04" cy="399.77" r="3.1"/><circle cx="491.29" cy="459.95" r="3.1"/><circle cx="479.17" cy="458.23" r="3.1"/><circle cx="465.12" cy="453.42" r="3.1"/><circle cx="564.24" cy="452.59" r="3.1"/><circle cx="616.01" cy="434.09" r="3.1"/><circle cx="529.14" cy="458.56" r="3.1"/><circle cx="524.31" cy="459.56" r="3.1"/><circle cx="555.6" cy="454.66" r="3.1"/><circle cx="596.3" cy="445.01" r="3.1"/><circle cx="576.73" cy="450.66" r="3.1"/><circle cx="589.92" cy="448.75" r="3.1"/><circle cx="612.35" cy="393.17" r="3.1"/><circle cx="627.54" cy="418.33" r="3.1"/><circle cx="600.38" cy="387.61" r="3.1"/><circle cx="483.48" cy="459.81" r="3.1"/><circle cx="544.12" cy="387.61" r="3.1"/><circle cx="535.21" cy="393.83" r="3.1"/><circle cx="628.1" cy="413.83" r="3.1"/><circle cx="569.37" cy="452.62" r="3.1"/><circle cx="568.81" cy="383.39" r="3.1"/><circle cx="506.45" cy="406.32" r="3.1"/><circle cx="590.9" cy="386.26" r="3.1"/><circle cx="602.41" cy="442.04" r="3.1"/><circle cx="580.34" cy="383.66" r="3.1"/><circle cx="556.55" cy="382.98" r="3.1"/><circle cx="585.11" cy="383.53" r="3.1"/><circle cx="514.19" cy="460.02" r="3.1"/><circle cx="583.92" cy="450.18" r="3.1"/><circle cx="623.17" cy="399.87" r="3.1"/><circle cx="524.33" cy="402.02" r="3.1"/><circle cx="473.81" cy="458.12" r="3.1"/><circle cx="474.46" cy="433.85" r="3.1"/><circle cx="498.06" cy="407.14" r="3.1"/><circle cx="600.54" cy="447.98" r="3.1"/><circle cx="532.12" cy="393.66" r="3.1"/><circle cx="499.41" cy="463.36" r="3.1"/><circle cx="631.13" cy="415.23" r="3.1"/><circle cx="610.19" cy="389.27" r="3.1"/><circle cx="474.87" cy="428.4" r="3.1"/><circle cx="559.43" cy="455.68" r="3.1"/><circle cx="622.72" cy="429.38" r="3.1"/><circle cx="624.19" cy="396.18" r="3.1"/><circle cx="432" cy="469" r="3.1"/><circle cx="452" cy="435.25" r="3.1"/><circle cx="474" cy="424.75" r="3.1"/><circle cx="455" cy="452" r="3.1"/><circle cx="460" cy="456.25" r="3.1"/><circle cx="466.25" cy="462.5" r="3.1"/><circle cx="473.75" cy="461.25" r="3.1"/><circle cx="481.25" cy="463" r="3.1"/><circle cx="491.25" cy="463.75" r="3.1"/><circle cx="523.75" cy="463" r="3.1"/><circle cx="533" cy="461.25" r="3.1"/><circle cx="539.5" cy="461.75" r="3.1"/><circle cx="499" cy="406.25" r="3.1"/><circle cx="505" cy="400.75" r="3.1"/><circle cx="511.25" cy="389.5" r="3.1"/><circle cx="511.75" cy="394.5" r="3.1"/><circle cx="519.5" cy="388.5" r="3.1"/><circle cx="523" cy="389.75" r="3.1"/><circle cx="518" cy="395" r="3.1"/><circle cx="521.25" cy="398" r="3.1"/><circle cx="535" cy="380.75" r="3.1"/><circle cx="540.5" cy="384.5" r="3.1"/><circle cx="554.25" cy="378" r="3.1"/><circle cx="558.75" cy="378" r="3.1"/><circle cx="563.25" cy="377" r="3.1"/><circle cx="571.75" cy="369.25" r="3.1"/><circle cx="580" cy="361" r="3.1"/><circle cx="580" cy="367" r="3.1"/><circle cx="587" cy="366.25" r="3.1"/><circle cx="593.25" cy="357.25" r="3.1"/><circle cx="588.75" cy="370" r="3.1"/><circle cx="581.25" cy="378.75" r="3.1"/><circle cx="589.25" cy="324.75" r="3.1"/><circle cx="629.5" cy="368.25" r="3.1"/><circle cx="614" cy="375" r="3.1"/><circle cx="635.75" cy="380.5" r="3.1"/><circle cx="621.5" cy="385" r="3.1"/><circle cx="634.5" cy="388" r="3.1"/><circle cx="644.25" cy="387.5" r="3.1"/><circle cx="627.75" cy="392" r="3.1"/><circle cx="639.5" cy="395" r="3.1"/><circle cx="653.5" cy="402" r="3.1"/><circle cx="639" cy="412" r="3.1"/><circle cx="634" cy="415" r="3.1"/><circle cx="639.75" cy="418.75" r="3.1"/><circle cx="646.75" cy="419" r="3.1"/><circle cx="631.5" cy="425" r="3.1"/><circle cx="632.25" cy="431.25" r="3.1"/><circle cx="637.25" cy="434.5" r="3.1"/><circle cx="625.25" cy="437.5" r="3.1"/><circle cx="605.75" cy="449.25" r="3.1"/><circle cx="596.5" cy="455" r="3.1"/><circle cx="594" cy="369.5" r="3.1"/><circle cx="599" cy="371.25" r="3.1"/><circle cx="604" cy="375" r="3.1"/><circle cx="591.5" cy="382" r="3.1"/><circle cx="601.5" cy="380.5" r="3.1"/><circle cx="612" cy="383.75" r="3.1"/><circle cx="616" cy="390" r="3.1"/></g>
<line x1="432" y1="456.25" x2="653.5" y2="402.5" stroke="#c6c6c6" stroke-width="0.9"/>
<path d="M413,321 V496.5 H684.5" fill="none" stroke="#262626" stroke-width="1"/>
<path d="M413,496.5 h3.5" stroke="#262626" stroke-width="1"/>
<path d="M413,409 h3.5" stroke="#262626" stroke-width="1"/>
<path d="M413,321.5 h3.5" stroke="#262626" stroke-width="1"/>
<g transform="translate(404.3,504.3) scale(0.954,1)"><text x="-11.18" y="0" font-family="'Liberation Sans', sans-serif" font-size="20.1" font-kerning="none" fill="#1e1e1e" stroke="#1e1e1e" stroke-width="0.4">0</text></g>
<g transform="translate(404.3,416.8) scale(0.954,1)"><text x="-11.18" y="0" font-family="'Liberation Sans', sans-serif" font-size="20.1" font-kerning="none" fill="#1e1e1e" stroke="#1e1e1e" stroke-width="0.4">2</text></g>
<g transform="translate(404.3,329.3) scale(0.954,1)"><text x="-11.18" y="0" font-family="'Liberation Sans', sans-serif" font-size="20.1" font-kerning="none" fill="#1e1e1e" stroke="#1e1e1e" stroke-width="0.4">4</text></g>
<path d="M458.25,496.5 v-3.5" stroke="#262626" stroke-width="1"/>
<g transform="translate(458.25,524.9) scale(0.954,1)"><text x="-19.56" y="0" font-family="'Liberation Sans', sans-serif" font-size="20.1" font-kerning="none" fill="#1e1e1e" stroke="#1e1e1e" stroke-width="0.4">0.02</text></g>
<path d="M548.75,496.5 v-3.5" stroke="#262626" stroke-width="1"/>
<g transform="translate(548.75,524.9) scale(0.954,1)"><text x="-19.56" y="0" font-family="'Liberation Sans', sans-serif" font-size="20.1" font-kerning="none" fill="#1e1e1e" stroke="#1e1e1e" stroke-width="0.4">0.03</text></g>
<path d="M639.25,496.5 v-3.5" stroke="#262626" stroke-width="1"/>
<g transform="translate(639.25,524.9) scale(0.954,1)"><text x="-19.56" y="0" font-family="'Liberation Sans', sans-serif" font-size="20.1" font-kerning="none" fill="#1e1e1e" stroke="#1e1e1e" stroke-width="0.4">0.04</text></g>
<g transform="translate(373.35,409) rotate(-90)">
<text transform="translate(-22.2,0) scale(0.975,1.000)" font-family="'Liberation Sans', sans-serif" font-size="21.5" font-weight="normal" font-style="normal" text-anchor="start" fill="#1e1e1e" stroke="#1e1e1e" stroke-width="0.4">R</text>
<text transform="translate(-7.7,10.5) scale(0.970,1.000)" font-family="'Liberation Sans', sans-serif" font-size="17.8" font-weight="normal" font-style="normal" text-anchor="start" fill="#1e1e1e" stroke="#1e1e1e" stroke-width="0.4">Sch</text>
</g>
<text transform="translate(82.6,16.7) scale(0.983,1.000)" font-family="'Liberation Sans', sans-serif" font-size="21.7" font-weight="bold" font-style="normal" text-anchor="start" fill="#0a0a0a">(a) Sensitivity to</text>
<text transform="translate(255.6,15.5) scale(1.150,0.950)" font-family="'Liberation Serif', sans-serif" font-size="22" font-weight="normal" font-style="italic" text-anchor="start" fill="#1e1e1e">β</text>
<text transform="translate(268,26.6) scale(0.920,1.000)" font-family="'Liberation Sans', sans-serif" font-size="18.1" font-weight="bold" font-style="normal" text-anchor="start" fill="#1e1e1e">Sch</text>
<text transform="translate(449.2,16.7) scale(0.983,1.000)" font-family="'Liberation Sans', sans-serif" font-size="21.7" font-weight="bold" font-style="normal" text-anchor="start" fill="#0a0a0a">(b) Sensitivity to</text>
<text transform="translate(621.8,15.5) scale(0.970,0.950)" font-family="'Liberation Serif', sans-serif" font-size="22" font-weight="normal" font-style="italic" text-anchor="start" fill="#1e1e1e">δ</text>
<text transform="translate(632.5,26.6) scale(0.920,1.000)" font-family="'Liberation Sans', sans-serif" font-size="18.1" font-weight="bold" font-style="normal" text-anchor="start" fill="#1e1e1e">W</text>
<text transform="translate(81.6,304.7) scale(0.983,1.000)" font-family="'Liberation Sans', sans-serif" font-size="21.7" font-weight="bold" font-style="normal" text-anchor="start" fill="#0a0a0a">(c) Sensitivity to</text>
<g transform="translate(252.8,304.7) scale(1)" fill="none" stroke="#1e1e1e" stroke-linecap="round" stroke-linejoin="round"><path d="M0.5,-6.3 C1.2,-8.6 2.6,-9.9 3.9,-9.85 C5.6,-9.8 6.6,-8.3 7.4,-5.5 C7.9,-3.7 8.2,-2.0 8.25,-0.6" stroke-width="1.55"/><path d="M11.6,-9.5 L8.9,-2.2 C8.0,0.4 7.3,2.2 6.7,3.6" stroke-width="1.35"/></g>
<text transform="translate(265,314.6) scale(0.920,1.000)" font-family="'Liberation Sans', sans-serif" font-size="18.1" font-weight="bold" font-style="normal" text-anchor="start" fill="#1e1e1e">S</text>
<text transform="translate(277,304.7) scale(0.983,1.000)" font-family="'Liberation Sans', sans-serif" font-size="21.7" font-weight="bold" font-style="normal" text-anchor="start" fill="#1e1e1e">ch</text>
<text transform="translate(447.6,304.7) scale(0.983,1.000)" font-family="'Liberation Sans', sans-serif" font-size="21.7" font-weight="bold" font-style="normal" text-anchor="start" fill="#0a0a0a">(d) Sensitivity to</text>
<text transform="translate(620.2,304.1) scale(1.100,0.840)" font-family="'Liberation Serif', sans-serif" font-size="22" font-weight="normal" font-style="italic" text-anchor="start" fill="#1e1e1e" stroke="#1e1e1e" stroke-width="0.45">π</text>
<text transform="translate(633.5,314.6) scale(0.920,1.000)" font-family="'Liberation Sans', sans-serif" font-size="18.1" font-weight="bold" font-style="normal" text-anchor="start" fill="#1e1e1e">W</text>
<text transform="translate(170.7,264.9) scale(1.150,0.950)" font-family="'Liberation Serif', sans-serif" font-size="22" font-weight="normal" font-style="italic" text-anchor="start" fill="#1e1e1e">β</text>
<text transform="translate(183,275.8) scale(0.950,1.000)" font-family="'Liberation Sans', sans-serif" font-size="17.8" font-weight="normal" font-style="normal" text-anchor="start" fill="#1e1e1e" stroke="#1e1e1e" stroke-width="0.4">Sch</text>
<text transform="translate(536,265.8) scale(0.930,0.950)" font-family="'Liberation Serif', sans-serif" font-size="22" font-weight="normal" font-style="italic" text-anchor="start" fill="#1e1e1e">δ</text>
<text transform="translate(545.8,275.8) scale(0.950,1.000)" font-family="'Liberation Sans', sans-serif" font-size="17.8" font-weight="normal" font-style="normal" text-anchor="start" fill="#1e1e1e" stroke="#1e1e1e" stroke-width="0.4">W</text>
<g transform="translate(169.1,553.8) scale(0.95)" fill="none" stroke="#1e1e1e" stroke-linecap="round" stroke-linejoin="round"><path d="M0.5,-6.3 C1.2,-8.6 2.6,-9.9 3.9,-9.85 C5.6,-9.8 6.6,-8.3 7.4,-5.5 C7.9,-3.7 8.2,-2.0 8.25,-0.6" stroke-width="1.55"/><path d="M11.6,-9.5 L8.9,-2.2 C8.0,0.4 7.3,2.2 6.7,3.6" stroke-width="1.35"/></g>
<text transform="translate(180,564.6) scale(0.950,1.000)" font-family="'Liberation Sans', sans-serif" font-size="17.8" font-weight="normal" font-style="normal" text-anchor="start" fill="#1e1e1e" stroke="#1e1e1e" stroke-width="0.4">S</text>
<text transform="translate(191.5,553) scale(1.000,1.000)" font-family="'Liberation Sans', sans-serif" font-size="21" font-weight="normal" font-style="normal" text-anchor="start" fill="#1e1e1e" stroke="#1e1e1e" stroke-width="0.4">ch</text>
<text transform="translate(534.9,553) scale(1.100,0.840)" font-family="'Liberation Serif', sans-serif" font-size="22" font-weight="normal" font-style="italic" text-anchor="start" fill="#1e1e1e" stroke="#1e1e1e" stroke-width="0.25">π</text>
<text transform="translate(546.9,564) scale(0.950,1.000)" font-family="'Liberation Sans', sans-serif" font-size="17.8" font-weight="normal" font-style="normal" text-anchor="start" fill="#1e1e1e" stroke="#1e1e1e" stroke-width="0.4">W</text>
<path d="M634.9,260 L644.6,269.1 M644.6,260 L634.9,269.1" stroke="#1e1e1e" stroke-width="0.9" fill="none"/>
<g transform="translate(648,269.4) scale(0.893,1)"><text x="0" y="0" font-family="'Liberation Sans', sans-serif" font-size="20.1" font-kerning="none" fill="#1e1e1e" stroke="#1e1e1e" stroke-width="0.4">10</text><rect x="1.03" y="-2.1" width="3.77" height="3.2" fill="#fff"/><rect x="7.08" y="-2.1" width="3.62" height="3.2" fill="#fff"/></g>
<text transform="translate(670.3,260.2) scale(1.000,1.000)" font-family="'Liberation Sans', sans-serif" font-size="15.2" font-weight="normal" font-style="normal" text-anchor="start" fill="#1e1e1e" stroke="#1e1e1e" stroke-width="0.4">-3</text>
</svg>
</body></html>
